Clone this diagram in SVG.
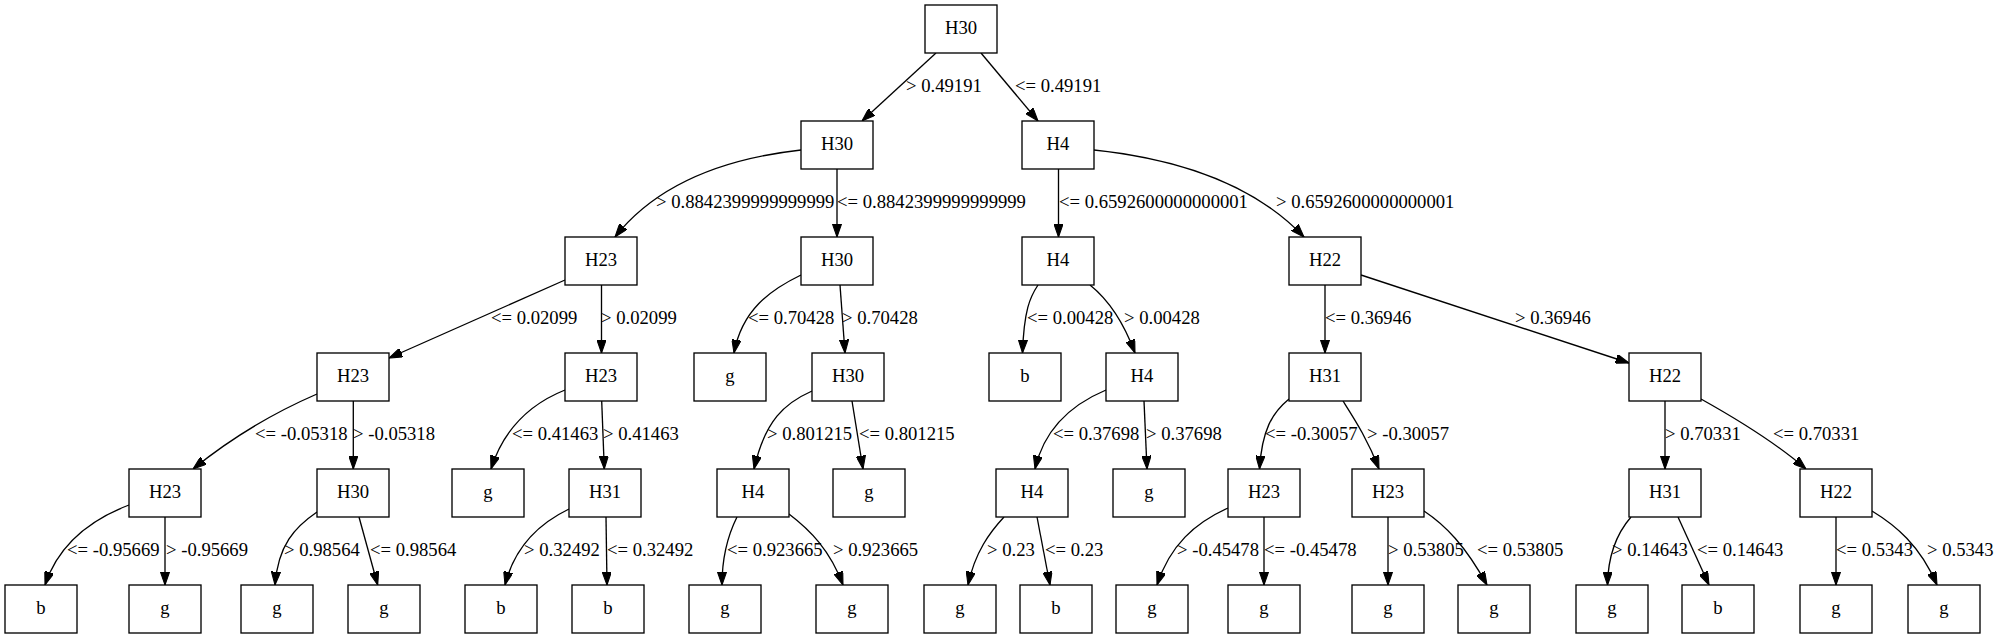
<svg xmlns="http://www.w3.org/2000/svg" width="1999" height="639" viewBox="0 0 1999 639">
<style>
.nd rect{fill:#fff;stroke:#000;stroke-width:1.33}
.nd text{font-family:"Liberation Serif","Times New Roman",serif;font-size:18.67px;text-anchor:middle;fill:#000}
.ed path{fill:none;stroke:#000;stroke-width:1.33;marker-end:url(#ah)}
#labels text{font-family:"Liberation Serif","Times New Roman",serif;font-size:18.67px;fill:#000}
</style>
<defs>
<marker id="ah" viewBox="0 0 10 7" refX="10" refY="3.5" markerWidth="13.33" markerHeight="9.33" markerUnits="userSpaceOnUse" orient="auto">
<path d="M0,0 L10,3.5 L0,7 z" fill="#000" stroke="#000" stroke-width="0.8"/>
</marker>
</defs>
<rect width="1999" height="639" fill="#fff"/>
<g id="edges" class="ed">
<path d="M936,53 L862,121"/>
<path d="M981,53 L1038,121"/>
<path d="M801,150 C730,158 660,180 615,237"/>
<path d="M837,169 L837,237"/>
<path d="M1058.5,169 L1058.5,237"/>
<path d="M1094,150 C1170,158 1250,180 1304,237"/>
<path d="M565,280 L389,358"/>
<path d="M601.5,285 L601.5,353"/>
<path d="M801,275 C770,290 742,310 734,353"/>
<path d="M840,285 L845,353"/>
<path d="M1038,285 C1030,297 1024,310 1022.5,353"/>
<path d="M1090,285 C1105,297 1122,318 1135,353"/>
<path d="M1325,285 L1325,353"/>
<path d="M1361,275 L1629,363"/>
<path d="M317,394 C280,410 235,435 193,469"/>
<path d="M353.3,401 L353.3,469"/>
<path d="M565,390 C535,402 505,425 491,469"/>
<path d="M601.7,401 L604.3,469"/>
<path d="M812,391 C785,403 765,420 754,469"/>
<path d="M852,401 L863,469"/>
<path d="M1106,390 C1075,403 1045,425 1035,469"/>
<path d="M1144,401 L1147,469"/>
<path d="M1289,399 C1272,413 1262,430 1259.5,469"/>
<path d="M1343,401 C1355,420 1368,440 1379,469"/>
<path d="M1665,401 L1665,469"/>
<path d="M1701,399 C1735,418 1775,442 1806,469"/>
<path d="M129,505 C95,518 60,540 45,585"/>
<path d="M165,517 L165,585"/>
<path d="M317,512 C295,527 278,545 275,585"/>
<path d="M359,517 L377.7,585"/>
<path d="M569,509 C540,523 515,545 505,585"/>
<path d="M606,517 L607,585"/>
<path d="M737,517 C728,535 722,555 722,585"/>
<path d="M789,514 C810,530 830,550 843,585"/>
<path d="M1004,517 C990,532 975,552 968,585"/>
<path d="M1037,517 L1050,585"/>
<path d="M1228,508 C1195,523 1170,545 1157,585"/>
<path d="M1264,517 L1264,585"/>
<path d="M1388,517 L1388,585"/>
<path d="M1424,511 C1445,525 1465,545 1487,585"/>
<path d="M1631,517 C1618,532 1608,552 1607.5,585"/>
<path d="M1678,517 L1709,585"/>
<path d="M1836,517 L1836,585"/>
<path d="M1872,511 C1895,525 1920,545 1937,585"/>
</g>
<g id="labels">
<text x="906" y="92">&gt; 0.49191</text>
<text x="1015" y="92">&lt;= 0.49191</text>
<text x="656" y="208">&gt; 0.8842399999999999</text>
<text x="837" y="208">&lt;= 0.8842399999999999</text>
<text x="1059" y="208">&lt;= 0.6592600000000001</text>
<text x="1276" y="208">&gt; 0.6592600000000001</text>
<text x="491" y="324">&lt;= 0.02099</text>
<text x="601" y="324">&gt; 0.02099</text>
<text x="748" y="324">&lt;= 0.70428</text>
<text x="842" y="324">&gt; 0.70428</text>
<text x="1027" y="324">&lt;= 0.00428</text>
<text x="1124" y="324">&gt; 0.00428</text>
<text x="1325" y="324">&lt;= 0.36946</text>
<text x="1515" y="324">&gt; 0.36946</text>
<text x="255" y="440">&lt;= -0.05318</text>
<text x="353" y="440">&gt; -0.05318</text>
<text x="512" y="440">&lt;= 0.41463</text>
<text x="603" y="440">&gt; 0.41463</text>
<text x="767" y="440">&gt; 0.801215</text>
<text x="859" y="440">&lt;= 0.801215</text>
<text x="1053" y="440">&lt;= 0.37698</text>
<text x="1146" y="440">&gt; 0.37698</text>
<text x="1265" y="440">&lt;= -0.30057</text>
<text x="1367" y="440">&gt; -0.30057</text>
<text x="1665" y="440">&gt; 0.70331</text>
<text x="1773" y="440">&lt;= 0.70331</text>
<text x="67" y="556">&lt;= -0.95669</text>
<text x="166" y="556">&gt; -0.95669</text>
<text x="284" y="556">&gt; 0.98564</text>
<text x="370" y="556">&lt;= 0.98564</text>
<text x="524" y="556">&gt; 0.32492</text>
<text x="607" y="556">&lt;= 0.32492</text>
<text x="727" y="556">&lt;= 0.923665</text>
<text x="833" y="556">&gt; 0.923665</text>
<text x="987" y="556">&gt; 0.23</text>
<text x="1045" y="556">&lt;= 0.23</text>
<text x="1177" y="556">&gt; -0.45478</text>
<text x="1264" y="556">&lt;= -0.45478</text>
<text x="1388" y="556">&gt; 0.53805</text>
<text x="1477" y="556">&lt;= 0.53805</text>
<text x="1612" y="556">&gt; 0.14643</text>
<text x="1697" y="556">&lt;= 0.14643</text>
<text x="1836" y="556">&lt;= 0.5343</text>
<text x="1927" y="556">&gt; 0.5343</text>
</g>
<g id="n0" class="nd"><rect x="925" y="5" width="72" height="48"/><text x="961" y="34">H30</text></g>
<g id="n1" class="nd"><rect x="801" y="121" width="72" height="48"/><text x="837" y="150">H30</text></g>
<g id="n2" class="nd"><rect x="1022" y="121" width="72" height="48"/><text x="1058" y="150">H4</text></g>
<g id="n3" class="nd"><rect x="565" y="237" width="72" height="48"/><text x="601" y="266">H23</text></g>
<g id="n4" class="nd"><rect x="801" y="237" width="72" height="48"/><text x="837" y="266">H30</text></g>
<g id="n5" class="nd"><rect x="1022" y="237" width="72" height="48"/><text x="1058" y="266">H4</text></g>
<g id="n6" class="nd"><rect x="1289" y="237" width="72" height="48"/><text x="1325" y="266">H22</text></g>
<g id="n7" class="nd"><rect x="317" y="353" width="72" height="48"/><text x="353" y="382">H23</text></g>
<g id="n8" class="nd"><rect x="565" y="353" width="72" height="48"/><text x="601" y="382">H23</text></g>
<g id="n9" class="nd"><rect x="694" y="353" width="72" height="48"/><text x="730" y="382">g</text></g>
<g id="n10" class="nd"><rect x="812" y="353" width="72" height="48"/><text x="848" y="382">H30</text></g>
<g id="n11" class="nd"><rect x="989" y="353" width="72" height="48"/><text x="1025" y="382">b</text></g>
<g id="n12" class="nd"><rect x="1106" y="353" width="72" height="48"/><text x="1142" y="382">H4</text></g>
<g id="n13" class="nd"><rect x="1289" y="353" width="72" height="48"/><text x="1325" y="382">H31</text></g>
<g id="n14" class="nd"><rect x="1629" y="353" width="72" height="48"/><text x="1665" y="382">H22</text></g>
<g id="n15" class="nd"><rect x="129" y="469" width="72" height="48"/><text x="165" y="498">H23</text></g>
<g id="n16" class="nd"><rect x="317" y="469" width="72" height="48"/><text x="353" y="498">H30</text></g>
<g id="n17" class="nd"><rect x="452" y="469" width="72" height="48"/><text x="488" y="498">g</text></g>
<g id="n18" class="nd"><rect x="569" y="469" width="72" height="48"/><text x="605" y="498">H31</text></g>
<g id="n19" class="nd"><rect x="717" y="469" width="72" height="48"/><text x="753" y="498">H4</text></g>
<g id="n20" class="nd"><rect x="833" y="469" width="72" height="48"/><text x="869" y="498">g</text></g>
<g id="n21" class="nd"><rect x="996" y="469" width="72" height="48"/><text x="1032" y="498">H4</text></g>
<g id="n22" class="nd"><rect x="1113" y="469" width="72" height="48"/><text x="1149" y="498">g</text></g>
<g id="n23" class="nd"><rect x="1228" y="469" width="72" height="48"/><text x="1264" y="498">H23</text></g>
<g id="n24" class="nd"><rect x="1352" y="469" width="72" height="48"/><text x="1388" y="498">H23</text></g>
<g id="n25" class="nd"><rect x="1629" y="469" width="72" height="48"/><text x="1665" y="498">H31</text></g>
<g id="n26" class="nd"><rect x="1800" y="469" width="72" height="48"/><text x="1836" y="498">H22</text></g>
<g id="n27" class="nd"><rect x="5" y="585" width="72" height="48"/><text x="41" y="614">b</text></g>
<g id="n28" class="nd"><rect x="129" y="585" width="72" height="48"/><text x="165" y="614">g</text></g>
<g id="n29" class="nd"><rect x="241" y="585" width="72" height="48"/><text x="277" y="614">g</text></g>
<g id="n30" class="nd"><rect x="348" y="585" width="72" height="48"/><text x="384" y="614">g</text></g>
<g id="n31" class="nd"><rect x="465" y="585" width="72" height="48"/><text x="501" y="614">b</text></g>
<g id="n32" class="nd"><rect x="572" y="585" width="72" height="48"/><text x="608" y="614">b</text></g>
<g id="n33" class="nd"><rect x="689" y="585" width="72" height="48"/><text x="725" y="614">g</text></g>
<g id="n34" class="nd"><rect x="816" y="585" width="72" height="48"/><text x="852" y="614">g</text></g>
<g id="n35" class="nd"><rect x="924" y="585" width="72" height="48"/><text x="960" y="614">g</text></g>
<g id="n36" class="nd"><rect x="1020" y="585" width="72" height="48"/><text x="1056" y="614">b</text></g>
<g id="n37" class="nd"><rect x="1116" y="585" width="72" height="48"/><text x="1152" y="614">g</text></g>
<g id="n38" class="nd"><rect x="1228" y="585" width="72" height="48"/><text x="1264" y="614">g</text></g>
<g id="n39" class="nd"><rect x="1352" y="585" width="72" height="48"/><text x="1388" y="614">g</text></g>
<g id="n40" class="nd"><rect x="1458" y="585" width="72" height="48"/><text x="1494" y="614">g</text></g>
<g id="n41" class="nd"><rect x="1576" y="585" width="72" height="48"/><text x="1612" y="614">g</text></g>
<g id="n42" class="nd"><rect x="1682" y="585" width="72" height="48"/><text x="1718" y="614">b</text></g>
<g id="n43" class="nd"><rect x="1800" y="585" width="72" height="48"/><text x="1836" y="614">g</text></g>
<g id="n44" class="nd"><rect x="1908" y="585" width="72" height="48"/><text x="1944" y="614">g</text></g>
</svg>
